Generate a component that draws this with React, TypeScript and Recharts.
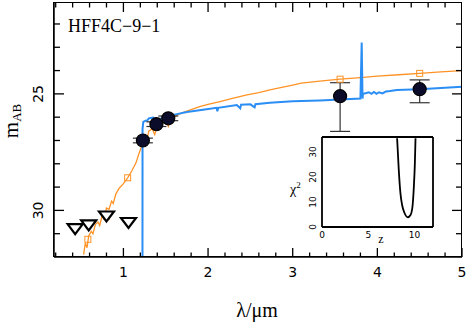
import React from "react";
import { ComposedChart, LineChart, Line, Scatter, XAxis, YAxis, ErrorBar } from "recharts";

// template spectrum (orange)
const templateLam = [0.53, 0.55, 0.57, 0.59, 0.62, 0.64, 0.67, 0.7, 0.72, 0.75, 0.78, 0.8, 0.83, 0.86, 0.88, 0.91, 0.95, 1.0, 1.05, 1.1, 1.15, 1.18, 1.21, 1.24, 1.27, 1.3, 1.34, 1.37, 1.4, 1.45, 1.5, 1.53, 1.56, 1.62, 1.7, 1.8, 1.9, 2.0, 2.14, 2.3, 2.46, 2.6, 2.73, 2.87, 3.0, 3.1, 3.32, 3.56, 3.8, 4.0, 4.25, 4.5, 4.75, 5.0];
const templateMag = [31.9, 31.4, 31.6, 31.1, 30.9, 31.0, 30.6, 30.5, 30.65, 30.2, 30.3, 29.9, 29.95, 29.6, 29.7, 29.3, 29.05, 28.85, 28.6, 28.3, 27.95, 27.6, 27.3, 26.95, 27.1, 26.6, 26.5, 26.75, 26.35, 26.3, 26.15, 26.4, 26.05, 25.95, 25.8, 25.68, 25.55, 25.45, 25.33, 25.18, 25.04, 24.95, 24.83, 24.72, 24.62, 24.54, 24.45, 24.37, 24.3, 24.24, 24.18, 24.12, 24.06, 24.0];

// best fit spectrum (blue)
const fitLam = [1.225, 1.226, 1.235, 1.26, 1.28, 1.3, 1.35, 1.4, 1.45, 1.5, 1.59, 1.75, 1.94, 2.1, 2.11, 2.12, 2.34, 2.38, 2.39, 2.5, 2.55, 2.56, 2.73, 3.0, 3.32, 3.56, 3.8, 3.815, 3.825, 3.83, 3.86, 3.9, 3.93, 3.96, 3.99, 4.02, 4.06, 4.1, 4.15, 4.23, 4.5, 4.75, 5.0];
const fitMag = [33.0, 26.5, 26.2, 26.15, 26.15, 26.05, 26.02, 26.1, 26.05, 26.0, 25.9, 25.78, 25.68, 25.6, 25.75, 25.6, 25.48, 25.62, 25.47, 25.45, 25.58, 25.44, 25.38, 25.32, 25.28, 25.24, 25.2, 22.8, 25.2, 25.0, 24.97, 24.93, 25.0, 24.92, 25.0, 24.93, 24.98, 24.9, 24.88, 24.83, 24.8, 24.75, 24.69];

// observed photometry
const photLam = [1.23, 1.39, 1.53, 3.56, 4.5];
const photMag = [27.0, 26.3, 26.05, 25.1, 24.8];
const photErrUp = [0.1, 0.1, 0.1, 0.58, 0.4];
const photErrDown = [0.1, 0.1, 0.1, 1.51, 0.58];

// upper limits
const limLam = [0.43, 0.59, 0.8, 1.06];
const limMag = [30.78, 30.62, 30.24, 30.52];

// model photometry (open squares)
const modelLam = [0.58, 0.8, 1.05, 1.25, 1.4, 1.55, 3.56, 4.5];
const modelMag = [31.24, 30.25, 28.6, 26.95, 26.35, 26.05, 24.37, 24.12];

// chi2 vs z
const chiZ = [8.12, 8.3, 8.48, 8.66, 8.91, 9.28, 9.57, 9.78, 9.93, 10.04, 10.11];
const chiVal = [35.5, 22.8, 13.5, 8.8, 5.7, 3.9, 4.8, 8.1, 16.1, 25.5, 35.5];

const xTicks = Array.from({ length: 25 }, (_, i) => Math.round((i + 1) * 2) / 10);
const yTicks = [22, 23, 24, 25, 26, 27, 28, 29, 30, 31];
const yLabels = [25, 30];
const zTicks = [0, 5, 10];
const chiTicks = [0, 10, 20, 30];

const X_MIN = 0.18;
const X_MAX = 5;
const Y_TOP = 21.1;
const Y_BOTTOM = 32;

const ORANGE = "#ff9326";
const BLUE = "#2a8ef5";
const NUM_FONT = "DejaVu Sans";
const SERIF = "Liberation Serif";

const templateData = templateLam.map((lam, i) => ({ lam, mag: templateMag[i] }));
const fitData = fitLam.map((lam, i) => ({ lam, mag: fitMag[i] }));
const photData = photLam.map((lam, i) => ({ lam, mag: photMag[i], err: [photErrUp[i], photErrDown[i]] }));
const limData = limLam.map((lam, i) => ({ lam, mag: limMag[i] }));
const modelData = modelLam.map((lam, i) => ({ lam, mag: modelMag[i] }));
const chiData = chiZ.map((z, i) => ({ z, chi: chiVal[i] }));
// mirrored ticks on the top and right edges
const topTickData = xTicks.map((v) => ({ lam: v, mag: Y_TOP }));
const rightTickData = yTicks.map((v) => ({ lam: X_MAX, mag: v }));

const isMajor = (v: number) => Math.abs(v - Math.round(v)) < 1e-6;

const BottomTick = (p: any) => {
  const v = p.payload.value;
  const major = isMajor(v);
  return (
    <g>
      <line x1={p.x} x2={p.x} y1={p.y} y2={p.y - (major ? 9 : 4.5)} stroke="#000" strokeWidth={1.3} />
      {major && (
        <text x={p.x} y={p.y + 20} textAnchor="middle" fontFamily={NUM_FONT} fontSize={14} fill="#000">
          {v}
        </text>
      )}
    </g>
  );
};

const LeftTick = (p: any) => {
  const v = p.payload.value;
  const major = yLabels.includes(v);
  return (
    <g>
      <line x1={p.x} x2={p.x + (major ? 10 : 6)} y1={p.y} y2={p.y} stroke="#000" strokeWidth={1.3} />
      {major && (
        <text
          transform={`translate(${p.x - 11},${p.y}) rotate(-90)`}
          textAnchor="middle"
          fontFamily={NUM_FONT}
          fontSize={14}
          fill="#000"
        >
          {v}
        </text>
      )}
    </g>
  );
};

const TopTickMark = (p: any) => {
  const major = isMajor(p.payload.lam);
  return <line x1={p.cx} x2={p.cx} y1={p.cy} y2={p.cy + (major ? 9 : 4.5)} stroke="#000" strokeWidth={1.3} />;
};

const RightTickMark = (p: any) => {
  const major = yLabels.includes(p.payload.mag);
  return <line x1={p.cx} x2={p.cx - (major ? 10 : 6)} y1={p.cy} y2={p.cy} stroke="#000" strokeWidth={1.3} />;
};

const InsetXTick = (p: any) => (
  <text x={p.x} y={p.y + 11} textAnchor="middle" fontFamily={NUM_FONT} fontSize={9} fill="#000">
    {p.payload.value}
  </text>
);

const InsetYTick = (p: any) => (
  <text transform={`translate(${p.x - 6},${p.y}) rotate(-90)`} textAnchor="middle" fontFamily={NUM_FONT} fontSize={9} fill="#000">
    {p.payload.value}
  </text>
);

const Dot = (p: any) => <circle cx={p.cx} cy={p.cy} r={6.5} fill="#0b0b2a" stroke="#000" strokeWidth={1.2} />;
const Tri = (p: any) => (
  <path
    d={`M${p.cx - 7.5},${p.cy - 4.5} L${p.cx + 7.5},${p.cy - 4.5} L${p.cx},${p.cy + 5.5} Z`}
    fill="#fff"
    stroke="#000"
    strokeWidth={2.2}
    strokeLinejoin="miter"
  />
);
const Square = (p: any) => (
  <rect x={p.cx - 3} y={p.cy - 3} width={6} height={6} fill="none" stroke={ORANGE} strokeWidth={1} />
);

const axisStyle = { stroke: "#000", strokeWidth: 1.5 };
const insetAxis = { stroke: "#000", strokeWidth: 1.8 };

export default function App() {
  return (
    <div style={{ position: "absolute", left: 0, top: 0, width: 468, height: 327, background: "#fff" }}>
      <ComposedChart width={468} height={327} margin={{ top: 3, right: 6, left: 0, bottom: 0 }}>
        <XAxis
          xAxisId="b"
          type="number"
          dataKey="lam"
          domain={[X_MIN, X_MAX]}
          ticks={xTicks}
          interval={0}
          tickSize={0}
          tickMargin={0}
          tickLine={false}
          tick={BottomTick}
          height={70}
          allowDataOverflow
          axisLine={axisStyle}
        />
        <YAxis
          yAxisId="l"
          type="number"
          dataKey="mag"
          domain={[Y_TOP, Y_BOTTOM]}
          reversed
          ticks={yTicks}
          interval={0}
          tickSize={0}
          tickMargin={0}
          tickLine={false}
          tick={LeftTick}
          width={54}
          allowDataOverflow
          axisLine={axisStyle}
        />
        <Line xAxisId="b" yAxisId="l" data={templateData} dataKey="mag" type="linear" stroke={ORANGE} strokeWidth={1.3} dot={false} isAnimationActive={false} />
        <Line xAxisId="b" yAxisId="l" data={fitData} dataKey="mag" type="linear" stroke={BLUE} strokeWidth={2} dot={false} isAnimationActive={false} />
        <Scatter xAxisId="b" yAxisId="l" data={topTickData} dataKey="mag" shape={TopTickMark} isAnimationActive={false} />
        <Scatter xAxisId="b" yAxisId="l" data={rightTickData} dataKey="mag" shape={RightTickMark} isAnimationActive={false} />
        <Scatter xAxisId="b" yAxisId="l" data={modelData} dataKey="mag" shape={Square} isAnimationActive={false} />
        <Scatter xAxisId="b" yAxisId="l" data={limData} dataKey="mag" shape={Tri} isAnimationActive={false} />
        <Scatter xAxisId="b" yAxisId="l" data={photData} dataKey="mag" shape={Dot} isAnimationActive={false}>
          <ErrorBar dataKey="err" direction="y" width={10} stroke="#333" strokeWidth={1.2} isAnimationActive={false} />
        </Scatter>
        <text x={68} y={32} fontFamily={SERIF} fontSize={18} fill="#000">
          HFF4C−9−1
        </text>
        <text transform="translate(18,121) rotate(-90)" textAnchor="middle" fontFamily={SERIF} fill="#000">
          <tspan fontSize={21}>m</tspan>
          <tspan fontSize={13} dy={3}>AB</tspan>
        </text>
        <text x={257} y={317} textAnchor="middle" fontFamily={SERIF} fontSize={20} fill="#000">
          λ/μm
        </text>
        <text x={290} y={194} fontFamily={SERIF} fontSize={14} fill="#000">
          χ<tspan fontSize={9} dy={-6}>2</tspan>
        </text>
        <text x={381} y={243} textAnchor="middle" fontFamily={SERIF} fontSize={12} fill="#000">
          z
        </text>
      </ComposedChart>

      {/* plot frame */}
      <div
        style={{
          position: "absolute",
          left: 53.25,
          top: 2.25,
          width: 406.5,
          height: 252.5,
          border: "1.5px solid #000",
          pointerEvents: "none",
        }}
      />

      <div style={{ position: "absolute", left: 290, top: 130 }}>
        <LineChart width={150} height={115} data={chiData} margin={{ top: 7, right: 7, left: 0, bottom: 0 }}>
          <XAxis
            dataKey="z"
            type="number"
            domain={[0, 12]}
            ticks={zTicks}
            interval={0}
            tickSize={0}
            tickMargin={0}
            tickLine={false}
            tick={InsetXTick}
            height={18}
            allowDataOverflow
            axisLine={insetAxis}
          />
          <XAxis xAxisId="t" orientation="top" mirror dataKey="z" type="number" domain={[0, 12]} tick={false} tickLine={false} allowDataOverflow axisLine={insetAxis} />
          <YAxis
            type="number"
            domain={[0, 36]}
            ticks={chiTicks}
            interval={0}
            tickSize={0}
            tickMargin={0}
            tickLine={false}
            tick={InsetYTick}
            width={32}
            allowDataOverflow
            axisLine={insetAxis}
          />
          <YAxis yAxisId="r" orientation="right" mirror type="number" domain={[0, 36]} tick={false} tickLine={false} allowDataOverflow axisLine={insetAxis} />
          <Line dataKey="chi" type="monotone" stroke="#000" strokeWidth={1.8} dot={false} isAnimationActive={false} />
          <Line xAxisId="t" yAxisId="r" dataKey="chi" stroke="none" dot={false} isAnimationActive={false} />
        </LineChart>
      </div>
    </div>
  );
}
